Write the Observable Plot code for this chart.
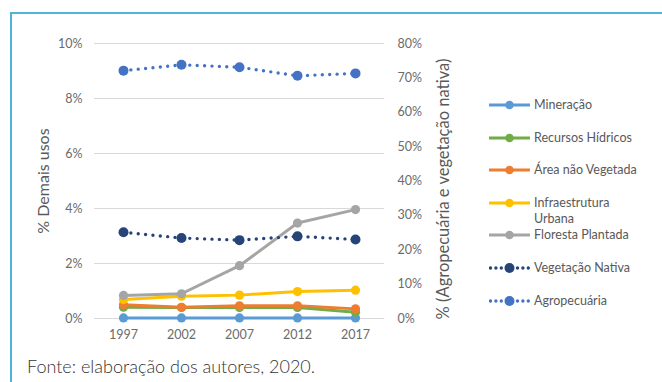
<!DOCTYPE html>
<html>
<head>
<meta charset="utf-8">
<script src="https://cdn.jsdelivr.net/npm/d3@7"></script>
<script src="https://cdn.jsdelivr.net/npm/@observablehq/plot@0.6"></script>
<style>
  body { margin: 0; background: #fff; }
  #chart { position: relative; width: 662px; height: 382px; overflow: hidden; font-family: Lato, "Noto Sans", sans-serif; background: #fff; }
  #frame { position: absolute; left: 10px; top: 12px; right: -20px; bottom: -20px;
           border-top: 2px solid #4bb5dc; border-left: 2px solid #4bb5dc; pointer-events: none; z-index: 2; }
  #plot { position: absolute; left: 0; top: 0; }
  #legend { position: absolute; left: 489px; top: 97px; }
  .row { display: flex; align-items: flex-start; height: 32.6px; }
  .row svg { flex: none; display: block; }
  .row span { margin-left: 4px; font-size: 12.5px; line-height: 16px; color: #595959; width: 112px; }
  #caption { position: absolute; left: 27px; top: 355px; font-size: 18px; font-weight: 300; color: #333; letter-spacing: 0px; }
</style>
</head>
<body>
<div id="chart">
  <div id="frame"></div>
  <div id="plot"></div>
  <div id="legend"></div>
  <div id="caption">Fonte: elaboração dos autores, 2020.</div>
</div>
<script>
// Land-use shares by survey year
const years = [1997, 2002, 2007, 2012, 2017];

// Left axis (% Demais usos)
const mineracao            = [0.02, 0.02, 0.02, 0.02, 0.02];
const recursosHidricos     = [0.41, 0.40, 0.40, 0.40, 0.23];
const areaNaoVegetada      = [0.50, 0.41, 0.46, 0.46, 0.35];
const infraestruturaUrbana = [0.69, 0.81, 0.85, 0.98, 1.03];
const florestaPlantada     = [0.84, 0.90, 1.92, 3.47, 3.96];

// Right axis (% Agropecuária e vegetação nativa)
const vegetacaoNativa = [25.1, 23.4, 22.8, 23.9, 23.0];
const agropecuaria    = [72.1, 73.8, 73.1, 70.6, 71.3];

// Axis ticks
const leftTicks  = [0, 2, 4, 6, 8, 10];
const rightTicks = [0, 10, 20, 30, 40, 50, 60, 70, 80];

// Right-axis values are mapped onto the left scale (80% ↔ 10%)
const rightFactor = leftTicks[leftTicks.length - 1] / rightTicks[rightTicks.length - 1];

const series = [
  {name: "Mineração",             values: mineracao,            color: "#5b9bd5", axis: "left"},
  {name: "Recursos Hídricos",     values: recursosHidricos,     color: "#70ad47", axis: "left"},
  {name: "Área não Vegetada",     values: areaNaoVegetada,      color: "#ed7d31", axis: "left"},
  {name: "Infraestrutura Urbana", values: infraestruturaUrbana, color: "#ffc000", axis: "left"},
  {name: "Floresta Plantada",     values: florestaPlantada,     color: "#a5a5a5", axis: "left"},
  {name: "Vegetação Nativa",      values: vegetacaoNativa,      color: "#264478", axis: "right"},
  {name: "Agropecuária",          values: agropecuaria,         color: "#4472c4", axis: "right"}
];

const rows = s => years.map((year, i) => ({year, value: s.values[i]}));
const yOf = s => s.axis === "right" ? (d => d.value * rightFactor) : "value";

const seriesMarks = series.flatMap(s => {
  const dotted = s.axis === "right";
  return [
    Plot.line(rows(s), {
      x: "year", y: yOf(s), stroke: s.color,
      strokeWidth: dotted ? 3.4 : 3,
      strokeDasharray: dotted ? "0 7.4" : null,
      strokeLinecap: "round", strokeLinejoin: "round"
    }),
    Plot.dot(rows(s), {x: "year", y: yOf(s), r: dotted ? 5 : 4.6, fill: s.color, stroke: "none"})
  ];
});

const plot = Plot.plot({
  width: 662,
  height: 350,
  marginLeft: 94,
  marginRight: 278,
  marginTop: 43,
  marginBottom: 32,
  style: {background: "transparent", fontFamily: "Lato, 'Noto Sans', sans-serif", color: "#6b6b6b"},
  x: {type: "point", domain: years, padding: 0.5},
  y: {domain: [0, 10]},
  marks: [
    Plot.gridY(leftTicks, {stroke: "#d9d9d9", strokeOpacity: 1, strokeWidth: 1}),
    Plot.axisY(leftTicks, {anchor: "left", tickSize: 0, tickPadding: 12, fontSize: 12.5,
      tickFormat: d => d + "%", label: null}),
    Plot.axisY(rightTicks.map(v => v * rightFactor), {anchor: "right", tickSize: 0, tickPadding: 13, fontSize: 12.5,
      tickFormat: d => Math.round(d / rightFactor) + "%", label: null}),
    Plot.axisX(years, {tickSize: 0, tickPadding: 12, fontSize: 12.5, tickFormat: d => String(d), label: null}),
    Plot.text(["% Demais usos"], {frameAnchor: "left", rotate: -90, dx: -51, textAnchor: "middle",
      fontSize: 16, fill: "#595959"}),
    Plot.text(["% (Agropecuária e vegetação nativa)"], {frameAnchor: "right", rotate: -90, dx: 59, dy: 8,
      textAnchor: "middle", fontSize: 16.5, fill: "#595959"}),
    ...seriesMarks
  ]
});
document.getElementById("plot").append(plot);

// Legend: line sample with marker, then the series name
const legend = d3.select("#legend");
series.forEach(s => {
  const dotted = s.axis === "right";
  const row = legend.append("div").attr("class", "row");
  const svg = row.append("svg").attr("width", 41).attr("height", 16);
  svg.append("line")
    .attr("x1", dotted ? 1.5 : 0).attr("x2", dotted ? 40 : 41).attr("y1", 8).attr("y2", 8)
    .attr("stroke", s.color).attr("stroke-width", dotted ? 3.4 : 3)
    .attr("stroke-linecap", dotted ? "round" : "butt")
    .attr("stroke-dasharray", dotted ? "0 5.4" : null);
  svg.append("circle").attr("cx", 20.5).attr("cy", 8).attr("r", dotted ? 5 : 4.3).attr("fill", s.color);
  row.append("span").text(s.name);
});
</script>
</body>
</html>
